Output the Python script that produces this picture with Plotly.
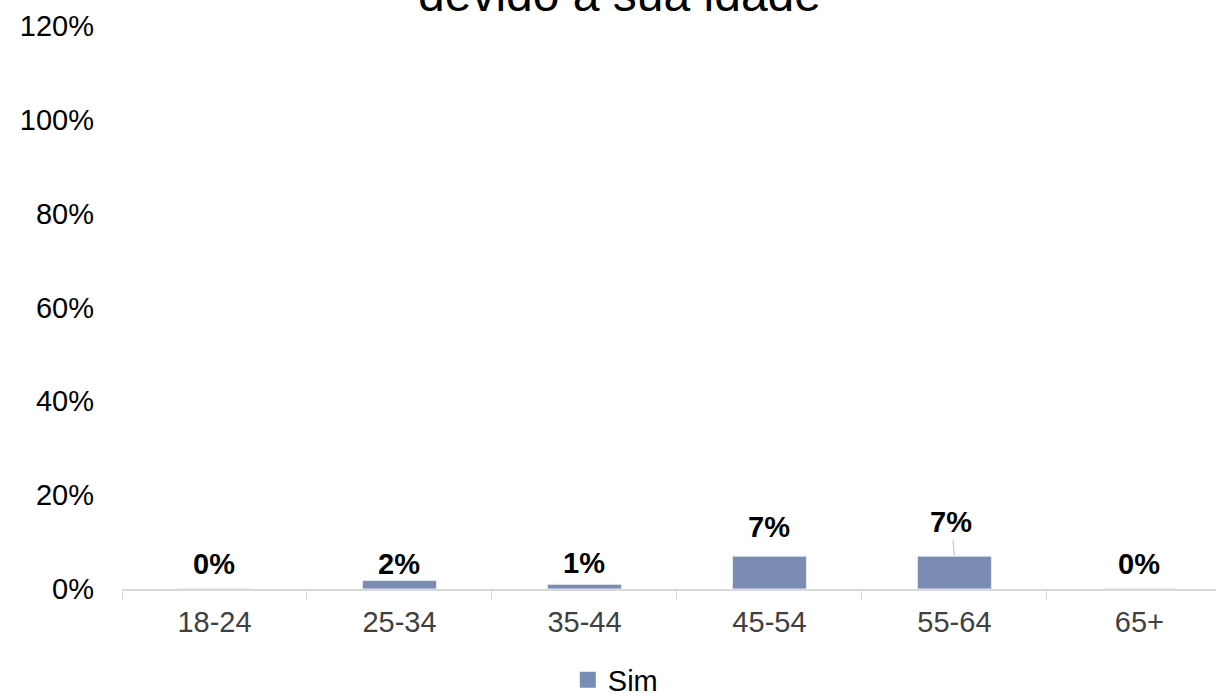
import plotly.graph_objects as go

# Data
categories = ["18-24", "25-34", "35-44", "45-54", "55-64", "65+"]
sim_values = [0.0, 1.8, 1.0, 7.0, 7.0, 0.0]
label_texts = ["0%", "2%", "1%", "7%", "7%", "0%"]
y_tick_vals = [0, 20, 40, 60, 80, 100, 120]
y_tick_text = ["0%", "20%", "40%", "60%", "80%", "100%", "120%"]
series_name = "Sim"
title_text = "devido à sua idade"

# Styles (label offsets in px above each bar)
label_shift = [25, 17, 21, 29, 34, 25]
FONT = "Arial, Liberation Sans, sans-serif"
BAR_COLOR = "#7A8CB4"

fig = go.Figure()
fig.add_trace(go.Bar(
    x=categories, y=sim_values, name=series_name,
    marker=dict(color=BAR_COLOR, line=dict(color="#E4E8F0", width=1)),
    showlegend=False,
))
# legend entry with a larger square symbol
fig.add_trace(go.Scatter(
    x=[None], y=[None], mode="markers", name=series_name,
    marker=dict(symbol="square", size=16, color=BAR_COLOR),
    showlegend=True, hoverinfo="skip",
))

for i, (c, v, t) in enumerate(zip(categories, sim_values, label_texts)):
    if i == 4:
        fig.add_annotation(
            x=c, y=v, xref="x", yref="y", text=f"<b>{t}</b>",
            showarrow=True, arrowhead=0, arrowwidth=1, arrowcolor="#BFBFBF",
            ax=-3, ay=-label_shift[i], standoff=1,
            font=dict(family=FONT, size=29, color="#000000"),
        )
    else:
        fig.add_annotation(
            x=c, y=v, xref="x", yref="y", text=f"<b>{t}</b>",
            showarrow=False, yanchor="middle", yshift=label_shift[i],
            font=dict(family=FONT, size=29, color="#000000"),
        )

fig.add_annotation(
    text=title_text, xref="paper", yref="paper", x=0.455, y=1.005,
    xanchor="center", yanchor="bottom", showarrow=False,
    font=dict(family=FONT, size=48, color="#000000"),
)

fig.update_layout(
    width=1216, height=698,
    margin=dict(l=122, r=0, t=26, b=109),
    paper_bgcolor="white", plot_bgcolor="white",
    font=dict(family=FONT, size=29, color="#000000"),
    bargap=0.6,
    showlegend=True,
    legend=dict(
        orientation="h", xref="container", yref="container",
        x=0.506, y=0.026, xanchor="center", yanchor="middle",
        font=dict(family=FONT, size=29, color="#000000"),
        itemwidth=30,
    ),
    xaxis=dict(
        range=[-0.5, 5.414], showgrid=False,
        showline=True, linecolor="#D9D9D9", linewidth=1.5,
        ticks="outside", tickson="boundaries", ticklen=9, tickcolor="#D9D9D9",
        tickfont=dict(family=FONT, size=29, color="#404040"),
        ticklabelstandoff=6,
        fixedrange=True,
    ),
    yaxis=dict(
        range=[0, 120], tickvals=y_tick_vals, ticktext=y_tick_text,
        showgrid=False, showline=False, zeroline=False, ticks="",
        tickfont=dict(family=FONT, size=29, color="#000000"),
        ticklabelstandoff=27,
        fixedrange=True,
    ),
)

fig.write_html("out.html")
